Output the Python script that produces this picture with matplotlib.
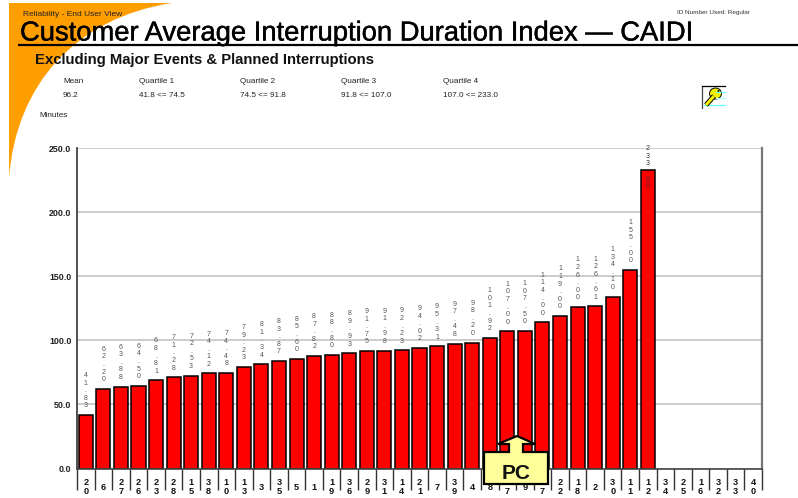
import matplotlib
matplotlib.use('Agg')
import matplotlib.pyplot as plt
import matplotlib.patheffects as pe
from matplotlib.patches import PathPatch, Polygon, Ellipse
from matplotlib.path import Path

plt.rcParams['font.family'] = ['Liberation Sans', 'DejaVu Sans']

districts = ['20', '6', '27', '26', '23', '28', '15', '38', '10', '13', '3', '35', '5',
             '1', '19', '36', '29', '31', '14', '21', '7', '39', '4', '8', '17', '9', '37',
             '22', '18', '2', '30', '11', '12', '34', '25', '16', '32', '33', '40']
minutes = [41.83, 62.20, 63.88, 64.50, 68.81, 71.28, 72.53, 74.12, 74.48, 79.23, 81.34,
           83.87, 85.60, 87.82, 88.80, 89.93, 91.75, 91.98, 92.23, 94.02, 95.31, 97.48,
           98.20, 101.92, 107.00, 107.50, 114.00, 119.00, 126.00, 126.61, 134.10, 155.00, 233.00]
y_ticks = [0, 50, 100, 150, 200, 250]
stat_names = ['Mean', 'Quartile 1', 'Quartile 2', 'Quartile 3', 'Quartile 4']
stat_values = ['96.2', '41.8 <= 74.5', '74.5 <= 91.8', '91.8 <= 107.0', '107.0 <= 233.0']

W, H = 798, 498
fig = plt.figure(figsize=(W / 100, H / 100), dpi=100)

# page furniture goes on a full-figure axes in pixel coordinates
bg = fig.add_axes([0, 0, 1, 1], zorder=0)
bg.set_xlim(0, W)
bg.set_ylim(H, 0)
bg.axis('off')

swoosh = Path([(9, 3), (172, 3), (75, 18), (16, 85), (9, 178), (9, 3)],
              [Path.MOVETO, Path.LINETO, Path.CURVE4, Path.CURVE4, Path.CURVE4, Path.CLOSEPOLY])
bg.add_patch(PathPatch(swoosh, fc='#FF9E00', ec='none'))

bg.text(23, 14, 'Reliability - End User View', fontsize=6.0, va='center', color='#222222')
bg.text(677, 12.5, 'ID Number Used: Regular', fontsize=4.6, va='center', color='#333333')
bg.text(20, 33.5, 'Customer Average Interruption Duration Index \u2014 CAIDI', fontsize=19.7,
        va='center', color='black',
        path_effects=[pe.withStroke(linewidth=0.3, foreground='black')])
bg.plot([18, W], [45, 45], color='black', lw=1.6, solid_capstyle='butt')
bg.text(35, 60, 'Excluding Major Events & Planned Interruptions', fontsize=10.7,
        fontweight='bold', va='center', color='#111111')

stat_x = [63, 139, 240, 341, 443]
for sx, name, val in zip(stat_x, stat_names, stat_values):
    bg.text(sx, 81.5, name, fontsize=5.9, va='center', color='#222222')
    bg.text(sx, 95.5, val, fontsize=5.9, va='center', color='#222222')
bg.text(39, 115, 'Minutes', fontsize=5.9, va='center', color='#222222')

# key icon
bg.plot([702, 702], [108, 86], color='#444444', lw=0.9)
bg.plot([702, 725], [86, 86], color='black', lw=0.9)
bg.plot([704, 725], [105, 105], color='#66FFFF', lw=0.9)
bg.plot([716, 725], [92, 92], color='#66FFFF', lw=0.9)
bg.plot([716, 725], [98, 98], color='#AAFFFF', lw=0.9)
bg.plot([706, 714], [105, 96], color='black', lw=3.6, solid_capstyle='butt')
bg.plot([706, 714], [105, 96], color='#F5F000', lw=2.2, solid_capstyle='butt')
bg.add_patch(Ellipse((715.5, 93.5), 12, 11, fc='#F5F000', ec='black', lw=0.7))
bg.add_patch(Ellipse((718.5, 91), 2, 2, fc='black', ec='none'))

ax = fig.add_axes([77 / W, 1 - 468.5 / H, (762 - 77) / W, (468.5 - 148) / H], zorder=1)
ax.patch.set_alpha(0)
x = list(range(len(districts)))
ax.bar(x[:len(minutes)], minutes, width=0.8, color='#FF0000', edgecolor='black', linewidth=1.1, zorder=2)
ax.set_xlim(-0.5, len(districts) - 0.5)
ax.set_ylim(0, 250)

ax.set_yticks(y_ticks)
ax.set_yticklabels([f'{t:.1f}' for t in y_ticks], fontsize=6.4, fontweight='bold', color='#222222')
ax.tick_params(axis='y', length=0, pad=4)
ax.grid(axis='y', color='#CCCCCC', lw=1.4, zorder=0)
ax.set_axisbelow(True)

ax.set_xticks(x)
ax.set_xticklabels(['\n'.join(d) for d in districts], fontsize=6.6, fontweight='bold',
                   va='center', linespacing=1.05, color='#111111')
ax.tick_params(axis='x', which='major', length=0, pad=13.5)
ax.set_xticks([i - 0.5 for i in range(len(districts) + 1)], minor=True)
ax.tick_params(axis='x', which='minor', length=15, width=1, color='#333333')

ax.spines['top'].set_visible(False)
ax.spines['left'].set_color('#333333')
ax.spines['left'].set_linewidth(1.2)
ax.spines['bottom'].set_color('#444444')
ax.spines['bottom'].set_linewidth(1.2)
ax.spines['right'].set_color('#777777')
ax.spines['right'].set_linewidth(1.6)

# value labels are stacked one character per line
for i, v in enumerate(minutes):
    s = '\n'.join(f'{v:.2f}')
    if v > 200:
        ax.annotate(s, (i, 250), xytext=(0, 2), textcoords='offset points', ha='center', va='top',
                    fontsize=5, linespacing=1.12, color='#333333', zorder=3, annotation_clip=False)
    else:
        ax.annotate(s, (i, v), xytext=(0, 4), textcoords='offset points', ha='center', va='bottom',
                    fontsize=5, linespacing=1.12, color='#555555', zorder=3, annotation_clip=False)

# PC callout on top of everything
fg = fig.add_axes([0, 0, 1, 1], zorder=2)
fg.set_xlim(0, W)
fg.set_ylim(H, 0)
fg.axis('off')
fg.add_patch(Polygon([(484, 452), (509, 452), (509, 444), (498, 444), (517, 436), (535, 444),
                      (523, 444), (523, 452), (548, 452), (548, 484), (484, 484)],
                     closed=True, fc='#FFFF99', ec='black', lw=1.6, joinstyle='miter'))
fg.text(516, 473, 'PC', fontsize=15, fontweight='bold', ha='center', va='center', color='#111111')

fig.savefig('out.png', dpi=100)
